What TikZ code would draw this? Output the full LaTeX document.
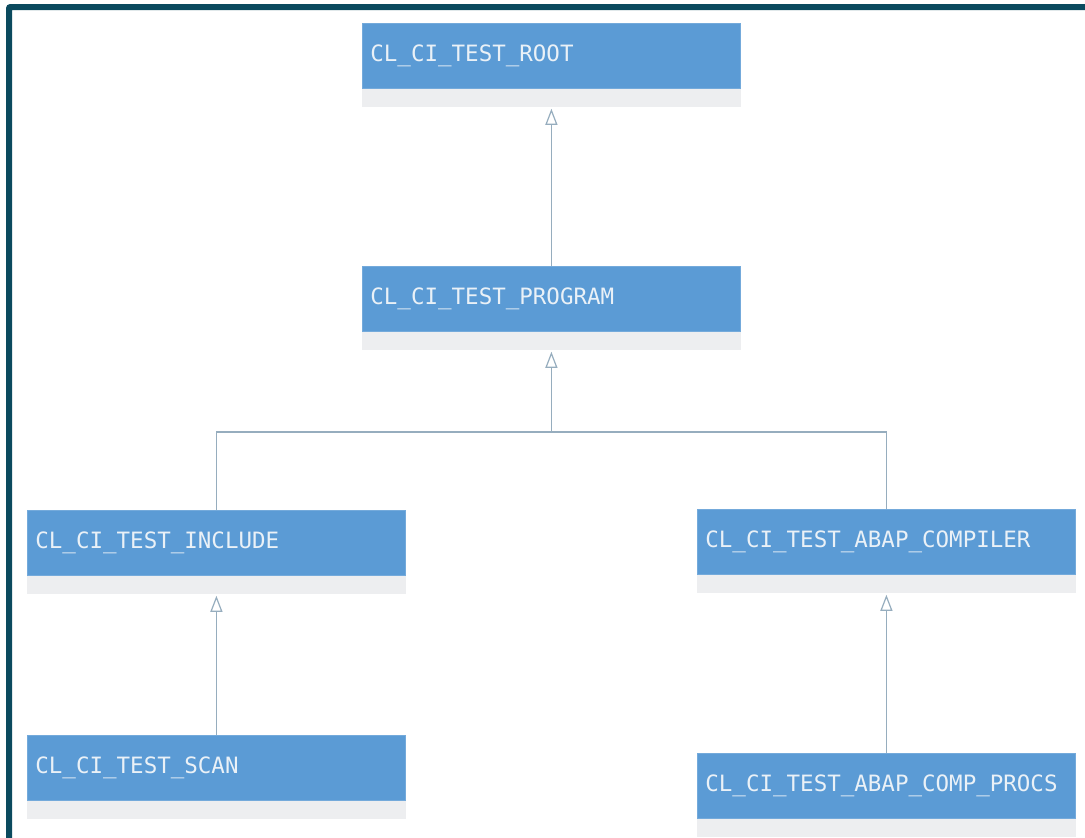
\documentclass[tikz,border=0pt]{standalone}
\usepackage{fontspec}
\newfontfamily\classfont{DejaVu Sans Mono}
\usetikzlibrary{arrows.meta}
\definecolor{boxblue}{HTML}{5B9BD5}
\definecolor{stripgray}{HTML}{EDEEF0}
\definecolor{framecol}{HTML}{0B4A5E}
\definecolor{linecol}{HTML}{96ADBE}
\definecolor{txtcol}{HTML}{EAF1F7}
\tikzset{
  x=1pt, y=1pt,
  classbox/.style={rectangle, fill=boxblue, draw=boxblue!85!white, line width=0.8pt,
    text width=362pt, inner xsep=8pt, inner ysep=0pt, minimum height=65pt,
    align=left, anchor=north west, text=txtcol,
    font=\classfont\fontsize{22.5}{26}\selectfont},
  strip/.style={fill=stripgray},
  conn/.style={draw=linecol, line width=1.2pt},
  inherit/.style={conn, -{Triangle[open, length=16pt, width=12pt, fill=white]}},
}
\begin{document}
\begin{tikzpicture}
\useasboundingbox (0,0) rectangle (1085,-838);
\fill[white] (0,0) rectangle (1085,-838);
% frame
\fill[framecol] (6,-838) -- (6,-8) arc (180:90:4) -- (1085,-4) -- (1085,-10) -- (12,-10) -- (12,-838) -- cycle;

\node[classbox] (root) at (362,-23) {CL\_CI\_TEST\_ROOT};
\node[classbox] (prog) at (362,-266) {CL\_CI\_TEST\_PROGRAM};
\node[classbox] (incl) at (27,-510) {CL\_CI\_TEST\_INCLUDE};
\node[classbox] (comp) at (697,-509) {CL\_CI\_TEST\_ABAP\_COMPILER};
\node[classbox] (scan) at (27,-735) {CL\_CI\_TEST\_SCAN};
\node[classbox] (procs) at (697,-753) {CL\_CI\_TEST\_ABAP\_COMP\_PROCS};

\foreach \n in {root,prog,incl,comp,scan,procs}{
  \fill[strip] (\n.south west) rectangle ([yshift=-18pt]\n.south east);
}

\coordinate (junc) at (prog.south |- 0,-432);

\draw[inherit] (prog.north) -- ([yshift=-20pt]root.south);
\draw[inherit] (junc) -- ([yshift=-20pt]prog.south);
\draw[conn] (incl.north) |- (junc) -| (comp.north);
\draw[inherit] (scan.north) -- ([yshift=-20pt]incl.south);
\draw[inherit] (procs.north) -- ([yshift=-20pt]comp.south);
\end{tikzpicture}
\end{document}
